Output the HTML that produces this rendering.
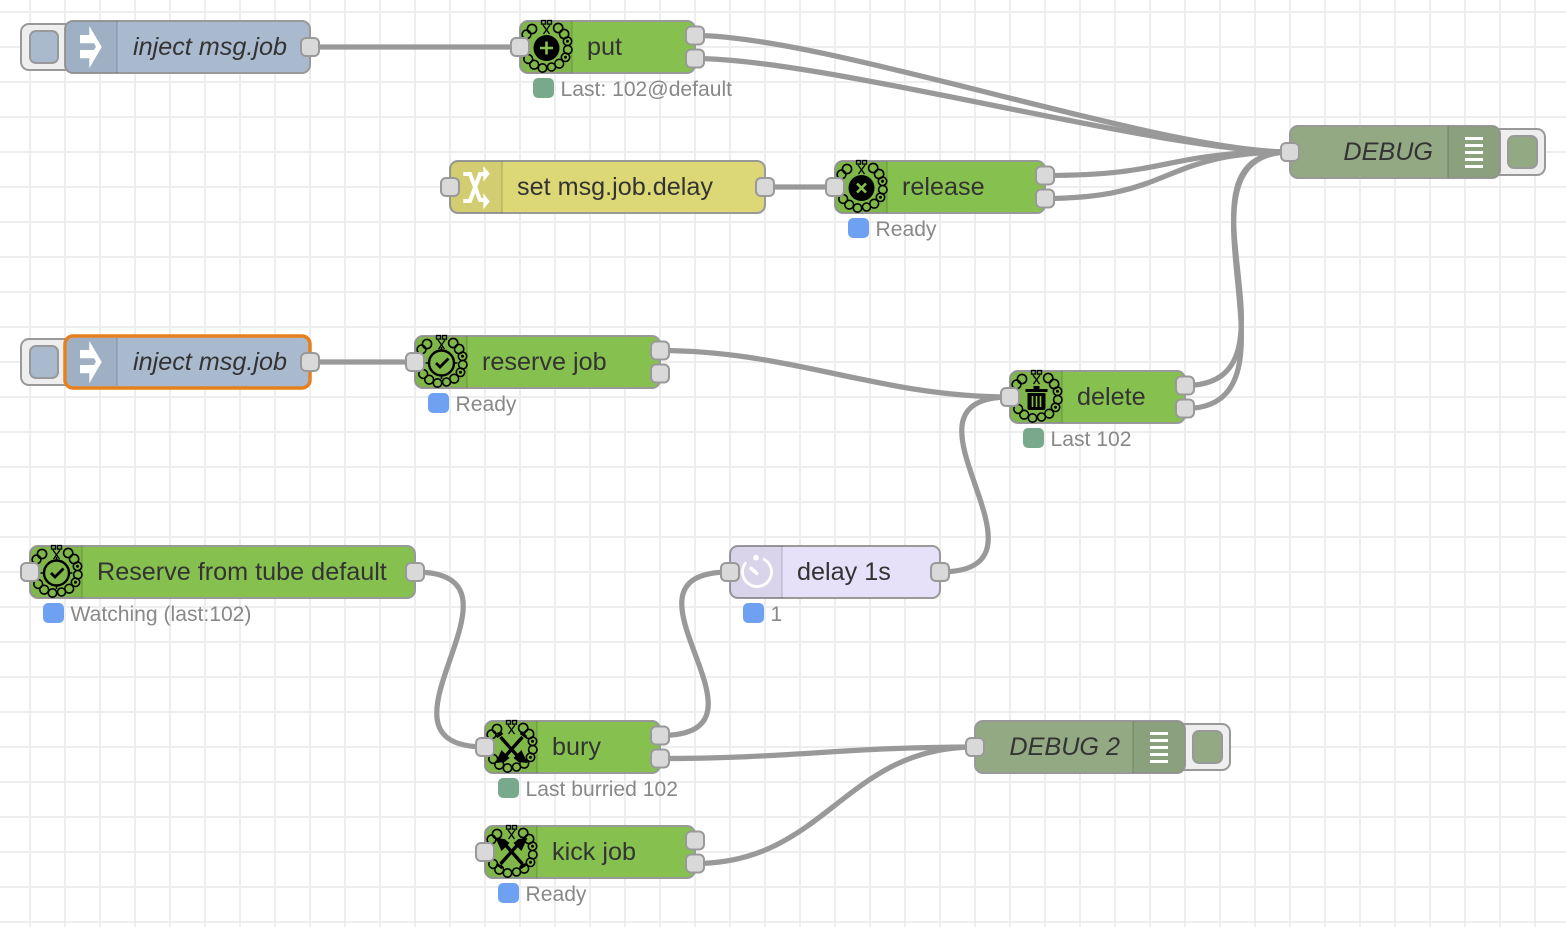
<!DOCTYPE html>
<html><head><meta charset="utf-8"><style>
html,body{margin:0;padding:0;background:#fff;width:1566px;height:927px;overflow:hidden}
svg{display:block}
text{font-family:"Liberation Sans",sans-serif}
.n{stroke:#999;stroke-width:2}
.l{font-size:25.2px;fill:#333}
.i{font-style:italic}
.s{font-size:21.1px;fill:#888}
.p{fill:#d9d9d9;stroke:#999;stroke-width:2}
.w{fill:none;stroke:#999;stroke-width:5.25}
.sh{fill:#000;fill-opacity:.05}
.dv{stroke:#000;stroke-opacity:.1;stroke-width:2}
</style></head><body>
<svg width="1566" height="927" viewBox="0 0 1566 927" xmlns="http://www.w3.org/2000/svg">
<defs>
<pattern id="grid" patternUnits="userSpaceOnUse" x="29" y="11" width="35" height="35">
<rect x="0" y="0" width="2" height="35" fill="#eee"/><rect x="0" y="0" width="35" height="2" fill="#eee"/>
</pattern>
<path id="shL" class="sh" d="M8 0H52V52H8a8 8 0 0 1-8-8V8a8 8 0 0 1 8-8z"/>
<path id="shR" class="sh" d="M0 0H44a8 8 0 0 1 8 8V44a8 8 0 0 1-8 8H0z"/>
<g id="ring" fill="none" stroke="#000" stroke-width="1.6">
<circle cx="-14.5" cy="-19" r="4.6"/><circle cx="11.7" cy="-20" r="4.6"/><circle cx="17.6" cy="-14" r="4.6"/><circle cx="21" cy="-6.7" r="4.2"/><circle cx="21.3" cy="1.7" r="4.2"/><circle cx="19" cy="9.3" r="4.2"/><circle cx="12.7" cy="15.7" r="4.4"/><circle cx="5" cy="19" r="4"/><circle cx="-4" cy="20" r="4.2"/><circle cx="-12.3" cy="16.7" r="4.4"/><circle cx="-18.3" cy="11" r="4.4"/><circle cx="-21.7" cy="3.3" r="4.2"/><circle cx="-22.3" cy="-5" r="4.2"/><circle cx="-20" cy="-13.5" r="4.4"/>
<circle cx="21" cy="-6.7" r=".7" fill="#000"/><circle cx="19" cy="9.3" r=".7" fill="#000"/>
<path d="M-3.5-23 3-14M3.5-23-3-14" stroke-width="1.3"/>
<rect x="-5" y="-27.5" width="4" height="3.6" stroke-width="1.3"/><rect x="1" y="-27.5" width="4" height="3.6" stroke-width="1.3"/>
</g>
<g id="clock" fill="none" stroke="#000"><circle r="12.5" stroke-width="2.4"/><path d="M-5.5 0-1.5 4 7-4.5" stroke-width="2.8"/><path d="M0-16v3M0 13v3M-16 0h3M13 0h3" stroke-width="1.6"/></g>
<g id="shov" fill="#000" stroke="none">
<path d="M-11-11 6 8M11-11-6 8" fill="none" stroke="#000" stroke-width="3.4"/>
<path d="M-15-11-9-15M15-11 9-15" fill="none" stroke="#000" stroke-width="2.6"/>
<path d="M-10 2-2 10-7 14-16 15zM10 2 2 10 7 14 16 15z"/>
</g>
<g id="arrow" fill="#fff"><path d="M15 14H24.3V5L36.7 26 24.3 47.3V37.3H15V29H29L31 25.7 29 22.3H15z"/></g>
<g id="lines" fill="#fff"><rect x="17" y="11" width="18" height="3"/><rect x="17" y="18" width="18" height="3"/><rect x="17" y="25" width="18" height="3"/><rect x="17" y="32" width="18" height="3"/><rect x="17" y="39" width="18" height="3"/></g>
</defs>
<rect width="1566" height="927" fill="#fff"/>
<rect width="1566" height="927" fill="url(#grid)"/>

<!-- wires -->
<path class="w" d="M310 47H519"/>
<path class="w" d="M310 362H415"/>
<path class="w" d="M765 187H835"/>
<path class="w" d="M695 35.5C826 35.5 1159 152 1290 152"/>
<path class="w" d="M695 58.5C826 58.5 1159 152 1290 152"/>
<path class="w" d="M1045 175.5C1176 175.5 1159 152 1290 152"/>
<path class="w" d="M1045 198.5C1176 198.5 1159 152 1290 152"/>
<path class="w" d="M1185 385.5C1316 385.5 1159 152 1290 152"/>
<path class="w" d="M1185 408.5C1316 408.5 1159 152 1290 152"/>
<path class="w" d="M660 350.5C791 350.5 879 397 1010 397"/>
<path class="w" d="M940 572C1071 572 879 397 1010 397"/>
<path class="w" d="M415 572C546 572 354 747 485 747"/>
<path class="w" d="M660 735.5C791 735.5 599 572 730 572"/>
<path class="w" d="M660 758.5C791 758.5 844 747 975 747"/>
<path class="w" d="M695 863.5C826 863.5 844 747 975 747"/>

<!-- inject 1 -->
<g transform="translate(65,21)">
<rect x="-44" y="3" width="52" height="46" rx="8" fill="#eee" stroke="#999" stroke-width="2"/>
<rect x="-35" y="10" width="28" height="32" rx="6" fill="#a9bacf" stroke="#999" stroke-width="2"/>
<rect width="245" height="52" rx="8" fill="#a9bacf" class="n"/>
<use href="#shL"/><path class="dv" d="M52 0V52"/><use href="#arrow"/>
<text class="l i" x="68" y="34">inject msg.job</text>
<rect class="p" x="236" y="17" width="18" height="18" rx="5"/>
</g>

<!-- put -->
<g transform="translate(520,21)">
<rect width="175" height="52" rx="8" fill="#86c14f" class="n"/>
<use href="#shL"/><path class="dv" d="M52 0V52"/>
<g transform="translate(26.5,27)"><use href="#ring"/><circle r="13" fill="#000"/><path d="M-6.5 0H6.5M0-6.5V6.5" stroke="#86c14f" stroke-width="2.6"/></g>
<text class="l" x="67" y="34">put</text>
<rect class="p" x="-9" y="17" width="18" height="18" rx="5"/>
<rect class="p" x="166" y="5.5" width="18" height="18" rx="5"/>
<rect class="p" x="166" y="28.5" width="18" height="18" rx="5"/>
<rect x="13" y="57" width="21" height="20" rx="5" fill="#78a98d"/>
<text class="s" x="40.5" y="75">Last: 102@default</text>
</g>

<!-- DEBUG -->
<g transform="translate(1290,126)">
<rect x="200" y="3" width="55" height="46" rx="8" fill="#eee" stroke="#999" stroke-width="2"/>
<rect x="218" y="10" width="29" height="32" rx="6" fill="#93a983" stroke="#999" stroke-width="2"/>
<rect width="210" height="52" rx="8" fill="#93a983" class="n"/>
<use href="#shR" x="158"/><path class="dv" d="M158 0V52"/><use href="#lines" x="158"/>
<text class="l i" x="143" y="34" text-anchor="end">DEBUG</text>
<rect class="p" x="-9" y="17" width="18" height="18" rx="5"/>
</g>

<!-- set msg.job.delay -->
<g transform="translate(450,161)">
<rect width="315" height="52" rx="8" fill="#ddd876" class="n"/>
<use href="#shL"/><path class="dv" d="M52 0V52"/>
<g fill="none" stroke="#fff" stroke-width="4"><path d="M13.3 13H20L30 39H35"/><path d="M13.3 40H20L30 13H35"/></g>
<path d="M33.3 5 39.8 12.6 33.3 20.7zM33.3 32.3 39.8 40.5 33.3 48.3z" fill="#fff"/>
<text class="l" x="67" y="34">set msg.job.delay</text>
<rect class="p" x="-9" y="17" width="18" height="18" rx="5"/>
<rect class="p" x="306" y="17" width="18" height="18" rx="5"/>
</g>

<!-- release -->
<g transform="translate(835,161)">
<rect width="210" height="52" rx="8" fill="#86c14f" class="n"/>
<use href="#shL"/><path class="dv" d="M52 0V52"/>
<g transform="translate(26.5,27)"><use href="#ring"/><circle r="13" fill="#000"/><path d="M-4.5-4.5 4.5 4.5M4.5-4.5-4.5 4.5" stroke="#86c14f" stroke-width="2.6"/></g>
<text class="l" x="67" y="34">release</text>
<rect class="p" x="-9" y="17" width="18" height="18" rx="5"/>
<rect class="p" x="201" y="5.5" width="18" height="18" rx="5"/>
<rect class="p" x="201" y="28.5" width="18" height="18" rx="5"/>
<rect x="13" y="57" width="21" height="20" rx="5" fill="#6ea1f1"/>
<text class="s" x="40.5" y="75">Ready</text>
</g>

<!-- inject 2 -->
<g transform="translate(65,336)">
<rect x="-44" y="3" width="52" height="46" rx="8" fill="#eee" stroke="#999" stroke-width="2"/>
<rect x="-35" y="10" width="28" height="32" rx="6" fill="#a9bacf" stroke="#999" stroke-width="2"/>
<rect width="245" height="52" rx="8" fill="#a9bacf" stroke="#e6801e" stroke-width="3.5"/>
<path d="M8 2H52V50H8a6 6 0 0 1-6-6V8a6 6 0 0 1 6-6z" class="sh"/><path class="dv" d="M52 2V50"/><use href="#arrow"/>
<text class="l i" x="68" y="34">inject msg.job</text>
<rect class="p" x="236" y="17" width="18" height="18" rx="5"/>
</g>

<!-- reserve job -->
<g transform="translate(415,336)">
<rect width="245" height="52" rx="8" fill="#86c14f" class="n"/>
<use href="#shL"/><path class="dv" d="M52 0V52"/>
<g transform="translate(26.5,27)"><use href="#ring"/><use href="#clock"/></g>
<text class="l" x="67" y="34">reserve job</text>
<rect class="p" x="-9" y="17" width="18" height="18" rx="5"/>
<rect class="p" x="236" y="5.5" width="18" height="18" rx="5"/>
<rect class="p" x="236" y="28.5" width="18" height="18" rx="5"/>
<rect x="13" y="57" width="21" height="20" rx="5" fill="#6ea1f1"/>
<text class="s" x="40.5" y="75">Ready</text>
</g>

<!-- delete -->
<g transform="translate(1010,371)">
<rect width="175" height="52" rx="8" fill="#86c14f" class="n"/>
<use href="#shL"/><path class="dv" d="M52 0V52"/>
<g transform="translate(26.5,27)"><use href="#ring"/>
<path d="M-11-9H11V-6H-11zM-3-12H3V-9H-3zM-9-5H9V10a2 2 0 0 1-2 2H-7a2 2 0 0 1-2-2z" fill="#000"/>
<path d="M-4-2V9M0-2V9M4-2V9" stroke="#86c14f" stroke-width="1.6"/></g>
<text class="l" x="67" y="34">delete</text>
<rect class="p" x="-9" y="17" width="18" height="18" rx="5"/>
<rect class="p" x="166" y="5.5" width="18" height="18" rx="5"/>
<rect class="p" x="166" y="28.5" width="18" height="18" rx="5"/>
<rect x="13" y="57" width="21" height="20" rx="5" fill="#78a98d"/>
<text class="s" x="40.5" y="75">Last 102</text>
</g>

<!-- Reserve from tube default -->
<g transform="translate(30,546)">
<rect width="385" height="52" rx="8" fill="#86c14f" class="n"/>
<use href="#shL"/><path class="dv" d="M52 0V52"/>
<g transform="translate(26.5,27)"><use href="#ring"/><use href="#clock"/></g>
<text class="l" x="67" y="34">Reserve from tube default</text>
<rect class="p" x="-9" y="17" width="18" height="18" rx="5"/>
<rect class="p" x="376" y="17" width="18" height="18" rx="5"/>
<rect x="13" y="57" width="21" height="20" rx="5" fill="#6ea1f1"/>
<text class="s" x="40.5" y="75">Watching (last:102)</text>
</g>

<!-- delay -->
<g transform="translate(730,546)">
<rect width="210" height="52" rx="8" fill="#e6e0f8" class="n"/>
<use href="#shL"/><path class="dv" d="M52 0V52"/>
<path d="M33 12.8A14.5 14.5 0 1 1 16.3 16.2" fill="none" stroke="#fff" stroke-width="2.8"/>
<circle cx="26" cy="11.7" r="2.8" fill="#fff"/>
<path d="M21 22.3 26.7 27.3" stroke="#fff" stroke-width="3.6" stroke-linecap="round"/>
<text class="l" x="67" y="34">delay 1s</text>
<rect class="p" x="-9" y="17" width="18" height="18" rx="5"/>
<rect class="p" x="201" y="17" width="18" height="18" rx="5"/>
<rect x="13" y="57" width="21" height="20" rx="5" fill="#6ea1f1"/>
<text class="s" x="40.5" y="75">1</text>
</g>

<!-- bury -->
<g transform="translate(485,721)">
<rect width="175" height="52" rx="8" fill="#86c14f" class="n"/>
<use href="#shL"/><path class="dv" d="M52 0V52"/>
<g transform="translate(26.5,27)"><use href="#ring"/><use href="#shov"/></g>
<text class="l" x="67" y="34">bury</text>
<rect class="p" x="-9" y="17" width="18" height="18" rx="5"/>
<rect class="p" x="166" y="5.5" width="18" height="18" rx="5"/>
<rect class="p" x="166" y="28.5" width="18" height="18" rx="5"/>
<rect x="13" y="57" width="21" height="20" rx="5" fill="#78a98d"/>
<text class="s" x="40.5" y="75">Last burried 102</text>
</g>

<!-- kick job -->
<g transform="translate(485,826)">
<rect width="210" height="52" rx="8" fill="#86c14f" class="n"/>
<use href="#shL"/><path class="dv" d="M52 0V52"/>
<g transform="translate(26.5,27)"><use href="#ring"/><g transform="scale(1,-1)"><use href="#shov"/></g></g>
<text class="l" x="67" y="34">kick job</text>
<rect class="p" x="-9" y="17" width="18" height="18" rx="5"/>
<rect class="p" x="201" y="5.5" width="18" height="18" rx="5"/>
<rect class="p" x="201" y="28.5" width="18" height="18" rx="5"/>
<rect x="13" y="57" width="21" height="20" rx="5" fill="#6ea1f1"/>
<text class="s" x="40.5" y="75">Ready</text>
</g>

<!-- DEBUG 2 -->
<g transform="translate(975,721)">
<rect x="200" y="3" width="55" height="46" rx="8" fill="#eee" stroke="#999" stroke-width="2"/>
<rect x="218" y="10" width="29" height="32" rx="6" fill="#93a983" stroke="#999" stroke-width="2"/>
<rect width="210" height="52" rx="8" fill="#93a983" class="n"/>
<use href="#shR" x="158"/><path class="dv" d="M158 0V52"/><use href="#lines" x="158"/>
<text class="l i" x="145" y="34" text-anchor="end">DEBUG 2</text>
<rect class="p" x="-9" y="17" width="18" height="18" rx="5"/>
</g>
</svg>
</body></html>
